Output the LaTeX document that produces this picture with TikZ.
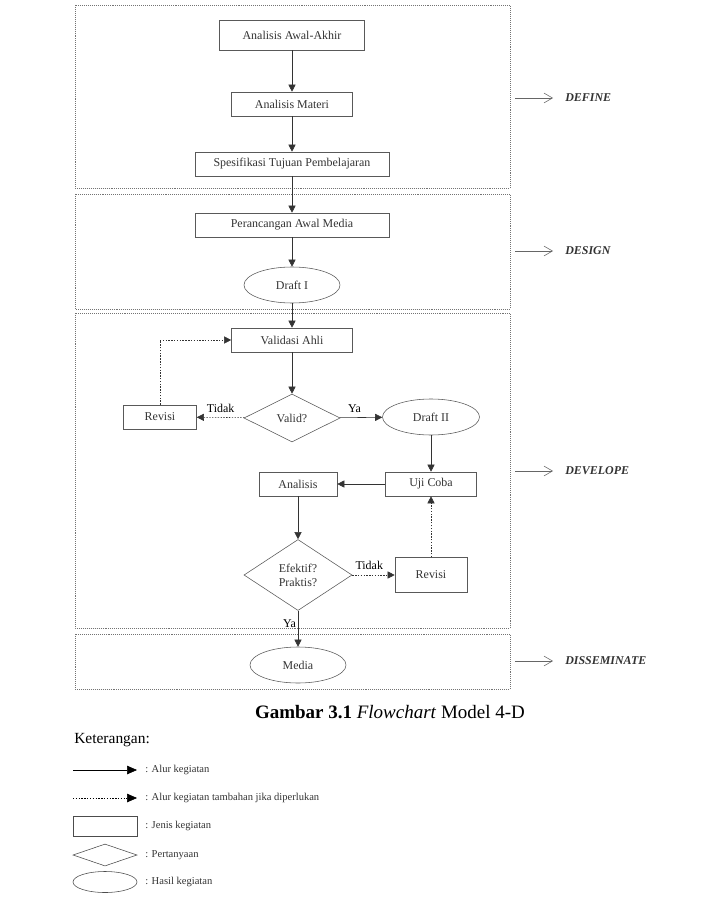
\documentclass[tikz,border=0pt]{standalone}
\usepackage{fontspec}
\setmainfont{Liberation Serif}
\usetikzlibrary{arrows.meta,positioning,shapes.geometric}

\begin{document}
\begin{tikzpicture}[x=0.025cm,y=-0.025cm,font=\fontsize{8.5}{10}\selectfont,
  >={Triangle[length=5pt,width=5pt]},
  line/.style={draw=black!80,thin},
  tambah/.style={dash pattern=on 1pt off 1pt},
  box/.style={draw=black!65,rectangle,minimum height=0.6cm,inner sep=2pt,text=black!80},
  hasil/.style={draw=black!65,ellipse,minimum width=2.4cm,minimum height=0.9cm,inner sep=0pt,text=black!80},
  tanya/.style={draw=black!65,diamond,inner sep=0pt,align=center,text=black!80},
  frame/.style={draw=black!55,densely dotted,thin},
  fase/.style={font=\fontsize{8.5}{10}\selectfont\bfseries\itshape,text=black!80,inner sep=0pt,anchor=west}]
\useasboundingbox (0,0) rectangle (720,898);

% tahap-tahap
\draw[frame] (75,5) rectangle (510,188);
\draw[frame] (75,194) rectangle (510,309);
\draw[frame] (75,313) rectangle (510,628);
\draw[frame] (75,634) rectangle (510,689);

\node[box,minimum width=3.625cm,minimum height=0.75cm] (awal) at (292,35) {Analisis Awal-Akhir};
\node[box,minimum width=3.025cm] (materi) at (292,104) {Analisis Materi};
\node[box,minimum width=4.85cm] (tujuan) at (292,164) {Spesifikasi Tujuan Pembelajaran};
\node[box,minimum width=4.85cm] (rancang) at (292,225) {Perancangan Awal Media};
\node[hasil] (draft1) at (292,285) {Draft I};
\node[box,minimum width=3.025cm] (validasi) at (292,340) {Validasi Ahli};
\node[tanya,minimum width=2.4cm,minimum height=1.2cm] (valid) at (292,418) {Valid?};
\node[box,minimum width=1.825cm] (revisi1) at (160,417) {Revisi};
\node[hasil,minimum width=2.425cm] (draft2) at (431,417) {Draft II};
\node[box,minimum width=2.275cm] (uji) at (431,484) {Uji Coba};
\node[box,minimum width=1.95cm] (analisis) at (298,484) {Analisis};
\node[tanya,minimum width=2.7cm,minimum height=1.775cm] (efektif) at (298,575) {Efektif?\\Praktis?};
\node[box,minimum width=1.8cm,minimum height=0.875cm] (revisi2) at (431,575) {Revisi};
\node[hasil] (media) at (298,665) {Media};

\draw[line,->] (awal) -- (materi);
\draw[line,->] (materi) -- (tujuan);
\draw[line,->] (tujuan) -- (rancang);
\draw[line,->] (rancang) -- (draft1);
\draw[line,->] (draft1) -- (validasi);
\draw[line,->] (validasi) -- (valid);
\draw[line,->] (valid) -- node[above,pos=0.35]{Ya} (draft2);
\draw[line,tambah,->] (valid) -- node[above]{Tidak} (revisi1);
\draw[line,tambah,->] (revisi1) |- (validasi);
\draw[line,->] (draft2) -- (uji);
\draw[line,->] (uji) -- (analisis);
\draw[line,->] (analisis) -- (efektif);
\draw[line,tambah,->] (efektif) -- node[above,pos=0.4]{Tidak} (revisi2);
\draw[line,tambah,->] (revisi2) -- (uji);
\draw[line,->] (efektif) -- node[left,pos=0.35,xshift=2pt]{Ya} (media);

% nama tahap
\foreach \y/\t/\n in {98/DEFINE/def,251/DESIGN/des,471/DEVELOPE/dev,661/DISSEMINATE/dis} {
  \coordinate (\n-s) at (515,\y);
  \node[fase] (\n) at (565,\y) {\t};
  \draw[black!60,-{Straight Barb[length=6pt,width=7pt]},shorten >=0.3cm] (\n-s) -- (\n.west);
}

\node (judul) at (390,712) {\fontsize{13.5}{16}\selectfont\textbf{Gambar 3.1} \textit{Flowchart} Model 4-D};
\node[anchor=west,inner sep=0pt] (ket) at (74,740) {\fontsize{11}{13}\selectfont Keterangan:};

% keterangan simbol
\coordinate (alur-s) at (73,770);
\coordinate (alur-e) at (137,770);
\coordinate (tambah-s) at (73,798);
\coordinate (tambah-e) at (137,798);
\draw[black,->,>={Triangle[length=7pt,width=6pt]}] (alur-s) -- (alur-e);
\draw[black,tambah,->,>={Triangle[length=7pt,width=6pt]}] (tambah-s) -- (tambah-e);
\node[draw=black!70,minimum width=1.6cm,minimum height=0.5cm] (sbox) at (105,826) {};
\node[draw=black!70,diamond,minimum width=1.6cm,minimum height=0.55cm,inner sep=0pt] (stanya) at (105,855) {};
\node[draw=black!70,ellipse,minimum width=1.6cm,minimum height=0.525cm,inner sep=0pt] (shasil) at (105,882) {};
\foreach \y/\t [count=\i] in {770/Alur kegiatan,798/Alur kegiatan tambahan jika diperlukan,826/Jenis kegiatan,855/Pertanyaan,882/Hasil kegiatan}
  \node[anchor=west,inner sep=0pt,font=\fontsize{7.5}{9}\selectfont,text=black!80] (ket\i) at (145,\y) {: \t};
\end{tikzpicture}
\end{document}
